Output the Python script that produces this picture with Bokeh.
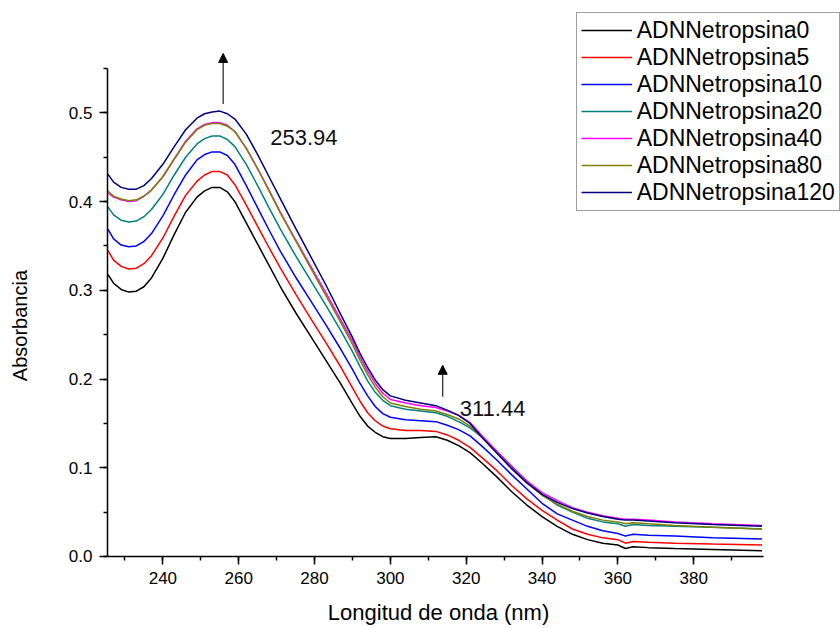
import math
from bokeh.plotting import figure
from bokeh.models import (Range1d, SingleIntervalTicker, PrintfTickFormatter, Legend,
                          LegendItem, Arrow, NormalHead, Label)
from bokeh.embed import file_html
from bokeh.resources import INLINE

wavelength = [225.5, 227, 229, 231, 233, 235, 237,
              240, 243, 246, 249,
              251, 253, 255, 257, 259,
              262, 265, 268, 271,
              275, 279, 283, 287,
              290, 292, 294, 296, 298, 300,
              304, 308, 312, 315, 318, 321,
              324, 328, 332, 336, 340,
              344, 348, 352, 356, 360,
              362, 364, 368, 375, 385, 398]

adn0 = [.318, .308, .301, .298, .299, .304, .314,
        .336, .363, .388, .405,
        .412, .416, .416, .411, .400,
        .376, .352, .328, .304,
        .275, .248, .221, .194,
        .172, .158, .147, .140, .135, .133,
        .133, .134, .135, .131, .125, .117,
        .106, .090, .073, .058, .045,
        .034, .025, .019, .015, .013,
        .009, .011, .010, .009, .008, .0065]
adn5 = [.345, .334, .327, .324, .325, .330, .339,
        .359, .384, .407, .423,
        .430, .434, .434, .430, .419,
        .396, .372, .348, .325,
        .296, .268, .241, .213,
        .190, .175, .162, .153, .147, .144,
        .142, .142, .141, .137, .131, .123,
        .112, .097, .080, .065, .052,
        .041, .031, .025, .021, .019,
        .015, .017, .016, .015, .014, .013]
adn10 = [.369, .358, .351, .349, .350, .355, .364,
         .384, .408, .430, .447,
         .453, .456, .456, .452, .442,
         .418, .393, .368, .344,
         .315, .288, .261, .233,
         .211, .195, .181, .169, .161, .157,
         .154, .153, .152, .148, .143, .136,
         .125, .109, .092, .076, .060,
         .048, .041, .034, .029, .026,
         .023, .025, .024, .023, .021, .0197]
adn20 = [.394, .385, .379, .377, .378, .383, .391,
         .408, .430, .450, .465,
         .471, .474, .474, .470, .462,
         .442, .418, .393, .369,
         .339, .311, .283, .254,
         .231, .214, .198, .185, .176, .170,
         .166, .164, .162, .158, .152, .145,
         .135, .119, .102, .085, .070,
         .058, .050, .043, .039, .037,
         .034, .036, .035, .034, .033, .031]
adn40 = [.410, .405, .402, .400, .401, .406, .413,
         .428, .448, .468, .482,
         .487, .489, .489, .486, .479,
         .460, .437, .413, .388,
         .357, .327, .297, .266,
         .243, .225, .209, .195, .184, .177,
         .173, .170, .168, .164, .159, .151,
         .137, .119, .101, .085, .072,
         .063, .055, .050, .046, .043,
         .042, .042, .041, .039, .037, .035]
adn80 = [.412, .406, .403, .401, .402, .406, .413,
         .428, .448, .467, .481,
         .486, .488, .488, .485, .479,
         .460, .437, .412, .387,
         .356, .325, .294, .263,
         .239, .221, .205, .191, .180, .173,
         .169, .166, .164, .160, .155, .147,
         .135, .117, .099, .083, .069,
         .059, .051, .045, .041, .039,
         .037, .038, .037, .035, .033, .031]
adn120 = [.431, .422, .416, .414, .414, .418, .426,
          .442, .462, .481, .494,
          .499, .501, .502, .499, .493,
          .476, .453, .428, .403,
          .370, .338, .306, .272,
          .247, .229, .213, .199, .188, .181,
          .176, .173, .170, .165, .159, .150,
          .135, .117, .099, .083, .070,
          .061, .054, .049, .045, .042,
          .041, .041, .040, .038, .036, .034]

series_names = ["ADNNetropsina0", "ADNNetropsina5", "ADNNetropsina10", "ADNNetropsina20",
                "ADNNetropsina40", "ADNNetropsina80", "ADNNetropsina120"]
series_values = [adn0, adn5, adn10, adn20, adn40, adn80, adn120]
colors = ["#000000", "#FF0000", "#0000FF", "#008080", "#FF00FF", "#808000", "#000080"]

peak_labels = ["253.94", "311.44"]
arrow_x = [255.9, 313.8]
arrow_y0 = [0.510, 0.180]
arrow_y1 = [0.567, 0.2155]
label_x = [268.3, 318.3]
label_y = [0.472, 0.1668]

x_title = "Longitud de onda (nm)"
y_title = "Absorbancia"
x_axis_bounds = (225.4, 398.4)
y_axis_bounds = (0.0, 0.55)

FONT = "Liberation Sans"

# The frame covers the whole canvas; the axes are drawn at fixed data
# locations with limited bounds so nothing (legend, arrow, titles) is clipped.
p = figure(width=840, height=628, output_backend="svg", toolbar_location=None,
           x_range=Range1d(197.18, 418.71), y_range=Range1d(-0.08115, 0.62664),
           min_border_left=0, min_border_right=0, min_border_top=0, min_border_bottom=0)
p.outline_line_color = None
p.grid.visible = False
p.background_fill_color = "white"
p.border_fill_color = "white"

items = []
for name, vals, c in zip(series_names, series_values, colors):
    r = p.line(wavelength, vals, line_color=c, line_width=1.5)
    items.append(LegendItem(label=name, renderers=[r]))

xa = p.xaxis[0]
xa.ticker = SingleIntervalTicker(interval=20, num_minor_ticks=2)
xa.bounds = x_axis_bounds
xa.fixed_location = y_axis_bounds[0]
ya = p.yaxis[0]
ya.ticker = SingleIntervalTicker(interval=0.1, num_minor_ticks=2)
ya.formatter = PrintfTickFormatter(format="%.1f")
ya.bounds = y_axis_bounds
ya.fixed_location = x_axis_bounds[0]

for ax in (xa, ya):
    ax.axis_line_width = 1.5
    ax.axis_line_color = "black"
    ax.major_tick_line_width = 1.5
    ax.minor_tick_line_width = 1.5
    ax.major_tick_in = 0
    ax.minor_tick_in = 0
    ax.major_tick_out = 8
    ax.minor_tick_out = 4
    ax.major_label_text_font = FONT
    ax.major_label_text_font_size = "17px"
    ax.major_label_text_color = "black"
xa.major_label_standoff = 8
ya.major_label_standoff = 7

# axis titles
p.add_layout(Label(x=312.7, y=-0.0631, text=x_title, text_align="center",
                   text_baseline="alphabetic", text_font=FONT, text_font_size="22px",
                   text_color="black"))
p.add_layout(Label(x=202.2, y=0.2603, text=y_title, angle=math.pi / 2,
                   text_align="center", text_baseline="alphabetic", text_font=FONT,
                   text_font_size="20px", text_color="black"))

legend = Legend(items=items, location=(575.7, 417.3), margin=0, padding=4, spacing=0,
                glyph_width=51, glyph_height=26, label_height=26, label_standoff=5,
                label_text_font=FONT, label_text_font_size="23px", label_text_color="black",
                border_line_color="#404040", border_line_width=1,
                background_fill_color="white", background_fill_alpha=1)
p.add_layout(legend)

for ax_, y0, y1 in zip(arrow_x, arrow_y0, arrow_y1):
    p.add_layout(Arrow(end=NormalHead(size=9, fill_color="black", line_color="black"),
                       x_start=ax_, y_start=y0, x_end=ax_, y_end=y1,
                       line_color="#222222", line_width=1.2))

for t, lx, ly in zip(peak_labels, label_x, label_y):
    p.add_layout(Label(x=lx, y=ly, text=t, text_font=FONT, text_font_size="22px",
                       text_color="#111111", text_baseline="alphabetic"))

open("out.html", "w").write(file_html(p, INLINE))
